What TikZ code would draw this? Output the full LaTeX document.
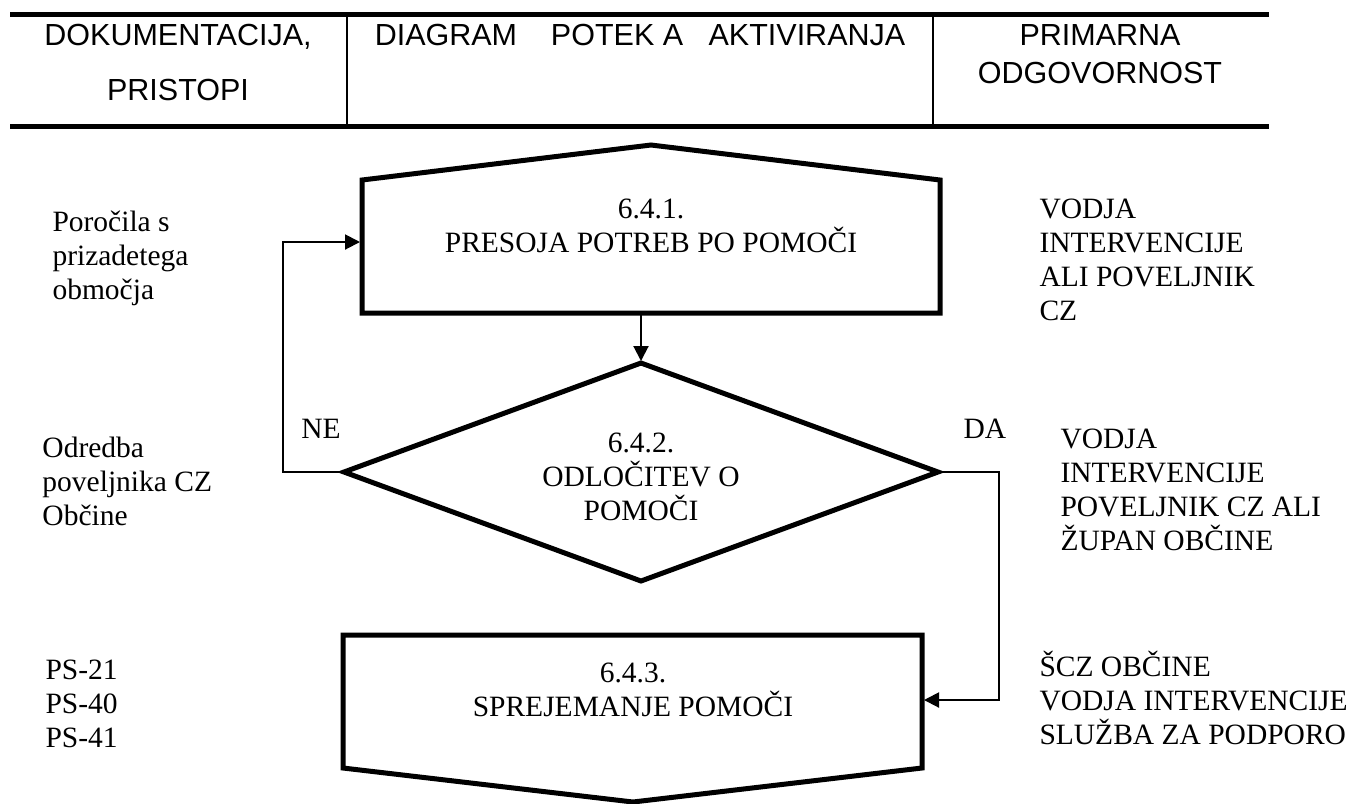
\documentclass[tikz,border=0pt]{standalone}
\usepackage{fontspec}
\setmainfont{Liberation Serif}
\newfontfamily\arialfont{Liberation Sans}
\usetikzlibrary{arrows.meta}
\begin{document}
\begin{tikzpicture}[x=.4pt, y=-.4pt, >={Triangle[length=6pt,width=6pt]},
        frame/.style={line width=2pt, line join=miter},
        link/.style={line width=.8pt},
        txt/.style={inner sep=0, anchor=base, align=center, font=\fontsize{11.8}{13.6}\selectfont},
        side/.style={txt, anchor=base west, align=left},
        head/.style={inner sep=0, anchor=base, align=center, font=\arialfont\fontsize{12.2}{15.2}\selectfont}]
        \useasboundingbox (0,0) rectangle (1349,803);
        \draw[line width=2pt] (10,14)--(1269,14);
        \draw[line width=2pt] (10,126)--(1269,126);
        \draw[link] (347,14)--(347,126);
        \draw[link] (933,14)--(933,126);
        \node[head, font=\arialfont\fontsize{12.2}{22}\selectfont] (hdok) at (178,100) {DOKUMENTACIJA,\\PRISTOPI};
        \node[head] (hdiag) at (640,45) {DIAGRAM\ \ \ \ POTEK A\ \ \ AKTIVIRANJA};
        \node[head] (hodg) at (1100,83) {PRIMARNA\\ODGOVORNOST};
        \coordinate (b1W) at (360,242);
        \coordinate (b1S) at (641,313);
        \coordinate (dN) at (641,361);
        \coordinate (dW) at (344,472);
        \coordinate (dE) at (938,472);
        \coordinate (b3E) at (924,700);
        \draw[frame] (362,313)--(362,180)--(651,145)--(940,180)--(940,313)--cycle;
        \draw[frame] (344,472)--(641,363)--(938,472)--(641,581)--cycle;
        \draw[frame] (343,635)--(922,635)--(922,768)--(633,802)--(343,768)--cycle;
        \node[txt] (presoja) at (651,252) {6.4.1.\\PRESOJA POTREB PO POMOČI};
        \node[txt] (odloc) at (641,520) {6.4.2.\\ODLOČITEV O\\POMOČI};
        \node[txt] (sprejem) at (633,716) {6.4.3.\\SPREJEMANJE POMOČI};
        \draw[link,->] (b1S)--(dN);
        \draw[link,->] (dW)--++(-61,0) |- (b1W);
        \draw[link,->] (dE)--++(61,0) |- (b3E);
        \node[txt] (ne) at (321,438) {NE};
        \node[txt] (da) at (985,438) {DA};
        \node[side] (poroc) at (52,299) {Poročila s\\prizadetega\\območja};
        \node[side] (odredba) at (42,525) {Odredba\\poveljnika CZ\\Občine};
        \node[side] (ps) at (45,747) {PS-21\\PS-40\\PS-41};
        \node[side] (vodjaA) at (1039,320) {VODJA\\INTERVENCIJE\\ALI POVELJNIK\\CZ};
        \node[side] (vodjaB) at (1060,550) {VODJA\\INTERVENCIJE\\POVELJNIK CZ ALI\\ŽUPAN OBČINE};
        \node[side] (scz) at (1039,744) {ŠCZ OBČINE\\VODJA INTERVENCIJE\\SLUŽBA ZA PODPORO};
\end{tikzpicture}
\end{document}
